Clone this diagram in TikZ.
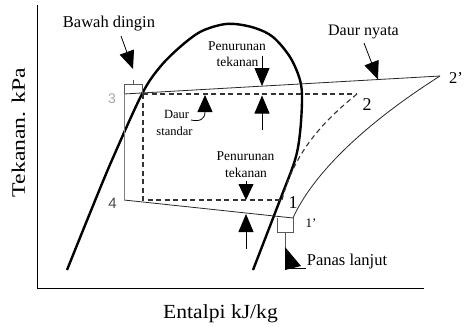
\documentclass[tikz,border=0pt]{standalone}
\usepackage{fontspec}
\setmainfont{Liberation Serif}
\newfontfamily\sansf{Liberation Sans}
\usetikzlibrary{arrows.meta}
\newcommand{\fsz}[1]{\fontsize{#1}{#1}\selectfont}
\begin{document}
\begin{tikzpicture}[x=1pt,y=-1pt,
  dome/.style={line width=2.4pt, black},
  cyc/.style={line width=0.8pt, black!85},
  std/.style={line width=1.1pt, black!80, dash pattern=on 5pt off 3.5pt},
  bigarrow/.style={-{Triangle[length=18pt,width=15pt]}, line width=0.8pt},
  lbl/.style={inner sep=0pt, anchor=base},
  brk/.style={line width=0.7pt, black!65},
]
\useasboundingbox (0,0) rectangle (464,327);
% axes
\coordinate (ytop) at (37,5);
\coordinate (O) at (37,288);
\coordinate (xend) at (424,288);
\draw[line width=0.9pt] (ytop) -- (O) -- (xend);
\node[rotate=90, inner sep=0pt, font=\fsz{19}] (ylab) at (18.5,132.5) {\scalebox{1.25}[1]{Tekanan. kPa}};
\node[lbl, font=\fsz{20}] (xlab) at (220.5,318) {\scalebox{1.08}[1]{Entalpi kJ/kg}};

% saturation dome
\draw[dome] plot[smooth, tension=0.55] coordinates {(67,270) (90,213) (112,160) (142,94) (160,67) (180,47) (200,32) (220,25) (235,24) (255,28) (273,37) (290,57) (300,80) (302,100) (300,133) (295,160) (280,200) (253,270)};

% cycle points
\coordinate (r3) at (124,94);
\coordinate (r4) at (124,200);
\coordinate (r1) at (293,218);
\coordinate (r2) at (440,76);
\coordinate (s3) at (143,94);
\coordinate (s4) at (143,200);
\coordinate (s1) at (282,200);
\coordinate (s2) at (357,94);

% real cycle
\draw[cyc] (r3) -- (r2);
\draw[cyc] (r4) -- (r1);
\draw[line width=0.8pt, black!50] (r3) -- (r4);
\draw[cyc] (r1) .. controls (310,180) and (355,130) .. (r2);

% standard cycle
\draw[std] (s3) -- (s2);
\draw[std] (s3) -- (s4) -- (s1);
\draw[std] (s2) .. controls (325,120) and (295,150) .. (s1);

% subcooling bracket
\draw[brk] (124,94) -- (124,84) -- (142,84) -- (142,94);
\draw[brk] (133,84) -- (133,80);
\node[lbl, font=\fsz{16.5}] (bd) at (109,27) {Bawah dingin};
\coordinate (bdA) at (121,36);
\coordinate (bdB) at (133,69);
\draw[bigarrow] (bdA) -- (bdB);

% superheat bracket
\draw[brk] (277,218) -- (277,232) -- (293,232) -- (293,218);
\draw[brk] (285,232) -- (285,248);
\fill (285,247) -- (301,266) -- (285,270) -- cycle;
\draw[line width=0.7pt] (285,268) -- (306,268);
\node[lbl, font=\fsz{16.5}] (pl) at (347,265) {Panas lanjut};

% Daur nyata
\node[lbl, font=\fsz{16}] (dn) at (363.5,35) {Daur nyata};
\coordinate (dnA) at (364,43);
\coordinate (dnB) at (378,79.5);
\draw[bigarrow] (dnA) -- (dnB);

% top pressure drop
\node[lbl, font=\fsz{13.5}] (pt1) at (237,50) {Penurunan};
\node[lbl, font=\fsz{13.5}] (pt2) at (237.5,66) {tekanan};
\coordinate (ta1) at (262,56);
\coordinate (ta2) at (262,86);
\coordinate (tb1) at (262,130);
\coordinate (tb2) at (262,95.5);
\draw[bigarrow] (ta1) -- (ta2);
\draw[bigarrow] (tb1) -- (tb2);

% Daur standar
\node[lbl, font=\fsz{12.5}] (ds1) at (176.5,118) {Daur};
\node[lbl, font=\fsz{12.5}] (ds2) at (174.5,135) {standar};
\draw[-{Triangle[length=17pt,width=15pt]}, line width=0.8pt] (191,120) .. controls (200,122) and (205,119) .. (205,95);

% bottom pressure drop
\node[lbl, font=\fsz{13.5}] (pb1) at (245.5,160) {Penurunan};
\node[lbl, font=\fsz{13.5}] (pb2) at (246,177) {tekanan};
\coordinate (ba1) at (246,181);
\coordinate (ba2) at (246,200);
\coordinate (bb1) at (246,249);
\coordinate (bb2) at (246,214);
\draw[-{Triangle[length=16pt,width=15pt]}, line width=0.8pt] (ba1) -- (ba2);
\draw[bigarrow] (bb1) -- (bb2);

% point labels
\node[lbl, font=\fsz{18}] (l1) at (293,208) {1};
\node[lbl, font=\fsz{13}] (l1p) at (311,227) {1’};
\node[lbl, font=\fsz{18}] (l2) at (367,110) {2};
\node[inner sep=0pt, anchor=base west, font=\fsz{16.5}] (l2p) at (449,83) {2’};
\node[lbl, font=\sansf\fsz{15}, text=black!70] (l4) at (112.5,208) {4};
\node[lbl, font=\sansf\fsz{14}, text=black!35] (l3) at (112,103) {3};
\end{tikzpicture}
\end{document}
